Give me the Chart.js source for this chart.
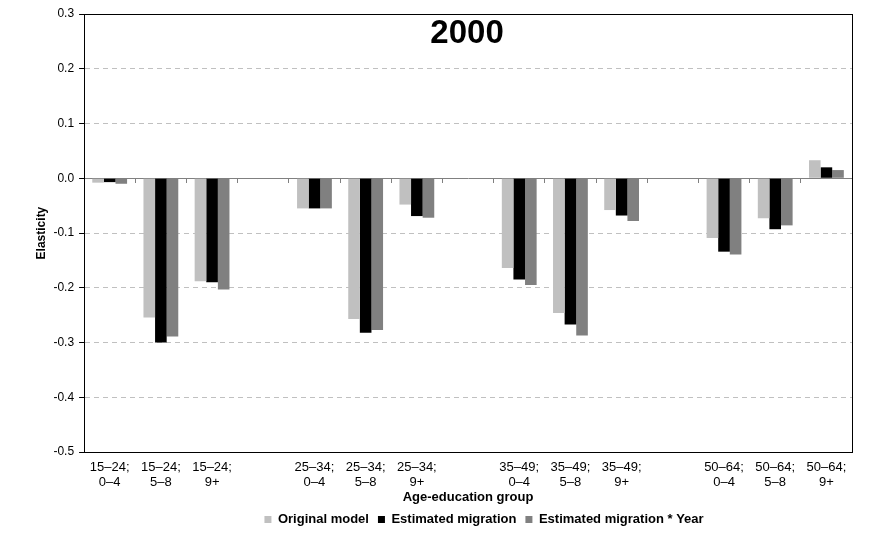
<!DOCTYPE html>
<html>
<head>
<meta charset="utf-8">
<script src="https://cdn.jsdelivr.net/npm/chart.js@4.4.1/dist/chart.umd.min.js"></script>
<style>
  html, body { margin: 0; padding: 0; background: #fff; }
  #wrap { width: 869px; height: 556px; position: relative; }
</style>
</head>
<body>
<div id="wrap"><canvas id="c" width="869" height="556"></canvas></div>
<script>
const TITLE = "2000";
const categories = [
  ["15–24;", "0–4"], ["15–24;", "5–8"], ["15–24;", "9+"], "",
  ["25–34;", "0–4"], ["25–34;", "5–8"], ["25–34;", "9+"], "",
  ["35–49;", "0–4"], ["35–49;", "5–8"], ["35–49;", "9+"], "",
  ["50–64;", "0–4"], ["50–64;", "5–8"], ["50–64;", "9+"]
];
const seriesNames = ["Original model", "Estimated migration", "Estimated migration * Year"];
const originalModel = [-0.008, -0.254, -0.188, null, -0.055, -0.257, -0.048, null, -0.164, -0.246, -0.058, null, -0.109, -0.073, 0.033];
const estimatedMigration = [-0.007, -0.300, -0.190, null, -0.055, -0.282, -0.069, null, -0.185, -0.267, -0.068, null, -0.134, -0.093, 0.020];
const estimatedMigrationYear = [-0.010, -0.289, -0.203, null, -0.055, -0.277, -0.072, null, -0.195, -0.287, -0.078, null, -0.139, -0.086, 0.015];
const yTicks = [0.3, 0.2, 0.1, 0.0, -0.1, -0.2, -0.3, -0.4, -0.5];
const yTitle = "Elasticity";
const xTitle = "Age-education group";

const FONT = "'Liberation Sans', Arial, sans-serif";
Chart.defaults.color = '#000';
Chart.defaults.font.family = FONT;

const frame = {
  id: 'frame',
  afterLayout(chart) {
    if (chart.legend) { chart.legend.left += 16; chart.legend.right += 16; }
  },
  afterDraw(chart) {
    const a = chart.chartArea, ctx = chart.ctx;
    ctx.save();
    ctx.strokeStyle = '#000';
    ctx.lineWidth = 1;
    ctx.strokeRect(Math.round(a.left) + 0.5, Math.round(a.top) + 0.5,
                   Math.round(a.right - a.left), Math.round(a.bottom - a.top));
    ctx.fillStyle = '#000';
    ctx.font = "bold 33px " + FONT;
    ctx.textAlign = 'center';
    ctx.textBaseline = 'alphabetic';
    ctx.fillText(TITLE, (a.left + a.right) / 2 - 1, a.top + 29);
    ctx.restore();
  }
};

const colors = ['#c0c0c0', '#000000', '#808080'];
const seriesData = [originalModel, estimatedMigration, estimatedMigrationYear];

new Chart(document.getElementById('c'), {
  type: 'bar',
  data: {
    labels: categories,
    datasets: seriesNames.map((n, i) => ({
      label: n,
      data: seriesData[i],
      backgroundColor: colors[i],
      borderWidth: 0,
      categoryPercentage: 0.68,
      barPercentage: 1.0,
      xAxisID: 'x'
    }))
  },
  options: {
    responsive: false,
    animation: false,
    devicePixelRatio: 1,
    layout: { padding: { left: 34, right: 17, top: 14, bottom: 20 } },
    plugins: {
      legend: {
        position: 'bottom',
        fullSize: false,
        labels: {
          boxWidth: 7, boxHeight: 7, padding: 9,
          font: { size: 13, weight: 'bold', family: FONT },
          color: '#000'
        }
      },
      tooltip: { enabled: false },
      title: { display: false }
    },
    scales: {
      x: {
        position: 'bottom',
        offset: true,
        grid: { display: false },
        border: { display: false },
        ticks: {
          autoSkip: false, maxRotation: 0, minRotation: 0,
          font: { size: 13, family: FONT, lineHeight: 1.15 }, color: '#000', padding: 0
        },
        title: {
          display: true, text: xTitle,
          font: { size: 13, weight: 'bold', family: FONT, lineHeight: 1.0 }, color: '#000',
          padding: { top: 1, bottom: 0 }
        }
      },
      x0: {
        type: 'category',
        position: { y: 0 },
        offset: true,
        ticks: { display: false },
        grid: {
          drawOnChartArea: false, drawTicks: true, tickLength: 4,
          tickColor: '#808080', offset: true
        },
        border: { display: true, color: '#808080', width: 1 }
      },
      y: {
        min: -0.5, max: 0.3,
        afterBuildTicks(scale) { scale.ticks = yTicks.map(v => ({ value: v })); },
        ticks: {
          font: { size: 12, family: FONT }, color: '#000', padding: 5,
          callback: v => Number(v).toFixed(1)
        },
        grid: {
          color: ctx => (ctx.tick && Math.abs(ctx.tick.value) < 1e-9) ? 'rgba(0,0,0,0)' : '#c0c0c0',
          tickColor: '#000',
          tickLength: 5,
          drawTicks: true
        },
        border: { display: true, color: '#000', dash: [5, 4] },
        title: {
          display: true, text: yTitle,
          font: { size: 12, weight: 'bold', family: FONT }, color: '#000',
          padding: { top: 0, bottom: 0 }
        }
      }
    }
  },
  plugins: [frame]
});
</script>
</body>
</html>
